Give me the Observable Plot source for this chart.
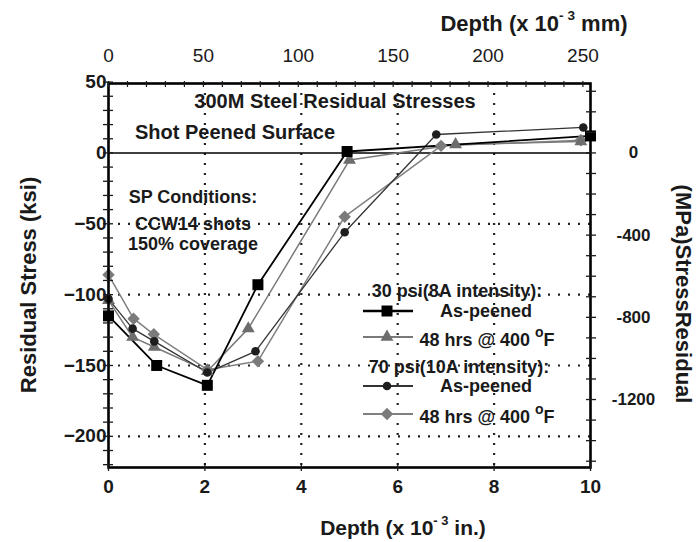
<!DOCTYPE html>
<html><head><meta charset="utf-8">
<script src="https://cdn.jsdelivr.net/npm/d3@7"></script>
<script src="https://cdn.jsdelivr.net/npm/@observablehq/plot@0.6"></script>
<style>
body{margin:0;background:#fff;}
#wrap{position:relative;width:696px;height:542px;font-family:"Liberation Sans",Arial,sans-serif;font-weight:bold;color:#1a1a1a;overflow:hidden;}
.t{position:absolute;white-space:nowrap;line-height:1;transform:translate(-50%,-50%);}
.sup{font-size:0.62em;vertical-align:0.75em;}
svg.leg{position:absolute;overflow:visible;}
</style></head><body><div id="wrap"></div>
<script>
// ---- data (depth in 10^-3 in., stress in ksi) ----
const seriesNames = ["30 psi As-peened", "30 psi 48 hrs @ 400 °F", "70 psi As-peened", "70 psi 48 hrs @ 400 °F"];
const depth30AP  = [0, 1.0, 2.05, 3.1, 4.95, 10.0];
const stress30AP = [-115, -150, -164, -93, 1, 12];
const depth30HT  = [0, 0.5, 0.95, 2.05, 2.9, 5.0, 7.2, 9.8];
const stress30HT = [-104, -130, -137, -154, -124, -5, 6, 8];
const depth70AP  = [0, 0.5, 0.95, 2.05, 3.05, 4.9, 6.8, 9.85];
const stress70AP = [-103, -124, -133, -155, -140, -56, 13, 18];
const depth70HT  = [0, 0.52, 0.94, 2.05, 3.1, 4.9, 6.9, 9.8];
const stress70HT = [-86, -117, -128, -153, -147, -45, 5, 9];

const ksiTicks = [50, 0, -50, -100, -150, -200];
const inTicks  = [0, 2, 4, 6, 8, 10];
const mmTicks  = [0, 50, 100, 150, 200, 250];
const mpaTicks = [0, -400, -800, -1200];
const gridX = [2, 4, 6, 8];
const gridY = [-50, -100, -150, -200];

const MPA_PER_KSI = 6.895, MM_PER_IN = 25.4;

const styles = [
  {symbol: "square",   r: 6.2, fill: "#000",    line: "#000",    lw: 1.8},
  {symbol: "triangle", r: 4.8, fill: "#6d6d6d", line: "#7a7a7a", lw: 1.5},
  {symbol: "circle",   r: 4.3, fill: "#1e1e1e", line: "#333",    lw: 1.3},
  {symbol: "diamond2", r: 5.6, fill: "#7b7b7b", line: "#808080", lw: 1.5}
];
const raw = [[depth30AP, stress30AP], [depth30HT, stress30HT], [depth70AP, stress70AP], [depth70HT, stress70HT]];
const tables = raw.map(([xs, ys], i) => xs.map((x, j) => ({series: seriesNames[i], depth: x, stress: ys[j]})));

const font = "'Liberation Sans', Arial, sans-serif";
const dots = {stroke: "#222", strokeOpacity: 1, strokeWidth: 2.2, strokeDasharray: "2,8"};

const marks = [
  Plot.gridX(gridX, dots),
  Plot.gridY(gridY, dots),
  Plot.ruleY([0], {stroke: "#000", strokeWidth: 1.6}),
];
[3, 1, 2, 0].forEach(i => {
  marks.push(Plot.line(tables[i], {x: "depth", y: "stress", stroke: styles[i].line, strokeWidth: styles[i].lw}));
});
[3, 1, 2, 0].forEach(i => {
  marks.push(Plot.dot(tables[i], {x: "depth", y: "stress", symbol: () => styles[i].symbol, r: styles[i].r, fill: styles[i].fill, stroke: "none"}));
});
marks.push(
  Plot.frame({stroke: "#000", strokeWidth: 2.6}),
  Plot.axisY(ksiTicks, {anchor: "left", tickSize: 0, tickPadding: 2, fontSize: 19, fontWeight: "bold", fontFamily: font, fill: "#1a1a1a", label: null}),
  Plot.axisY(d3.range(-220, 51, 10), {anchor: "left", tickSize: 10, dx: 5, tickFormat: () => "", strokeWidth: 1.3, label: null}),
  Plot.axisY(mpaTicks.map(m => m / MPA_PER_KSI), {anchor: "right", tickSize: 0, tickPadding: 43, textAnchor: "middle", tickFormat: d => String(Math.round(d * MPA_PER_KSI)), fontSize: 17, fontWeight: "bold", fontFamily: font, fill: "#1a1a1a", label: null}),
  Plot.axisY(d3.range(-1500, 301, 100).map(m => m / MPA_PER_KSI).filter(v => v >= -222 && v <= 49), {anchor: "right", tickSize: 10, dx: -5, tickFormat: () => "", strokeWidth: 1.3, label: null}),
  Plot.axisX(inTicks, {anchor: "bottom", tickSize: 0, tickPadding: 12, fontSize: 19, fontWeight: "bold", fontFamily: font, fill: "#1a1a1a", label: null}),
  Plot.axisX(inTicks, {anchor: "bottom", tickSize: 8, dy: -4, tickFormat: () => "", strokeWidth: 1.3, label: null}),
  Plot.axisX(mmTicks.map(m => m / MM_PER_IN), {anchor: "top", tickSize: 0, tickPadding: 22, tickFormat: d => String(Math.round(d * MM_PER_IN)), fontSize: 19, fontWeight: "normal", fontFamily: font, fill: "#1a1a1a", label: null}),
  Plot.axisX(d3.range(0, 251, 10).map(m => m / MM_PER_IN), {anchor: "top", tickSize: 6, dy: 3, tickFormat: () => "", strokeWidth: 1.2, label: null})
);

const chart = Plot.plot({
  width: 696, height: 542,
  marginLeft: 108, marginRight: 106, marginTop: 83, marginBottom: 75,
  x: {domain: [0, 10]},
  y: {domain: [-222, 49]},
  style: {fontFamily: font, background: "white", overflow: "visible"},
  marks
});
const wrap = document.getElementById("wrap");
wrap.appendChild(chart);

function txt(html, x, y, size, extra = "") {
  const d = document.createElement("div");
  d.className = "t";
  d.style.cssText = `left:${x}px;top:${y}px;font-size:${size}px;${extra}`;
  d.innerHTML = html;
  wrap.appendChild(d);
  return d;
}
txt('Depth (x 10<span class="sup">- 3</span> mm)', 534, 22, 22);
txt('Depth (x 10<span class="sup">- 3</span> in.)', 403, 526, 21);
txt('Residual Stress (ksi)', 29, 285, 22, "transform:translate(-50%,-50%) rotate(-90deg);");
txt('(MPa)StressResidual', 683, 294, 22, "transform:translate(-50%,-50%) rotate(90deg);");
txt('300M Steel Residual Stresses', 335, 101, 20);
txt('Shot Peened Surface', 235, 132, 20);
txt('SP Conditions:', 193, 197, 18);
txt('CCW14 shots', 193, 224, 18);
txt('150% coverage', 193, 244, 18);
const legendHeads = ["30 psi(8A intensity):", "70 psi(10A intensity):"];
const legendLabels = ["As-peened", '48 hrs @ 400 <span style="font-size:14px;vertical-align:9px">o</span>F'];
txt(legendHeads[0], 457, 291, 18);
txt(legendHeads[1], 459, 367, 18);
const rowY = [311, 337, 386, 414];
const labelX = [486, 487, 486, 487];
rowY.forEach((y, i) => {
  const s = styles[i];
  const svg = d3.select(wrap).append("svg").attr("class", "leg")
    .style("left", "360px").style("top", (y - 10) + "px").attr("width", 56).attr("height", 20);
  svg.append("line").attr("x1", 3).attr("x2", 53).attr("y1", 10).attr("y2", 10)
    .attr("stroke", s.line).attr("stroke-width", s.symbol === "square" ? 2.6 : 2);
  const sym = {square: d3.symbolSquare, triangle: d3.symbolTriangle, circle: d3.symbolCircle, diamond2: d3.symbolDiamond2}[s.symbol];
  svg.append("path").attr("transform", "translate(27,10)")
    .attr("d", d3.symbol(sym, Math.PI * s.r * s.r)()).attr("fill", s.fill);
  txt(legendLabels[i % 2], labelX[i], y, 18);
});
</script></body></html>
